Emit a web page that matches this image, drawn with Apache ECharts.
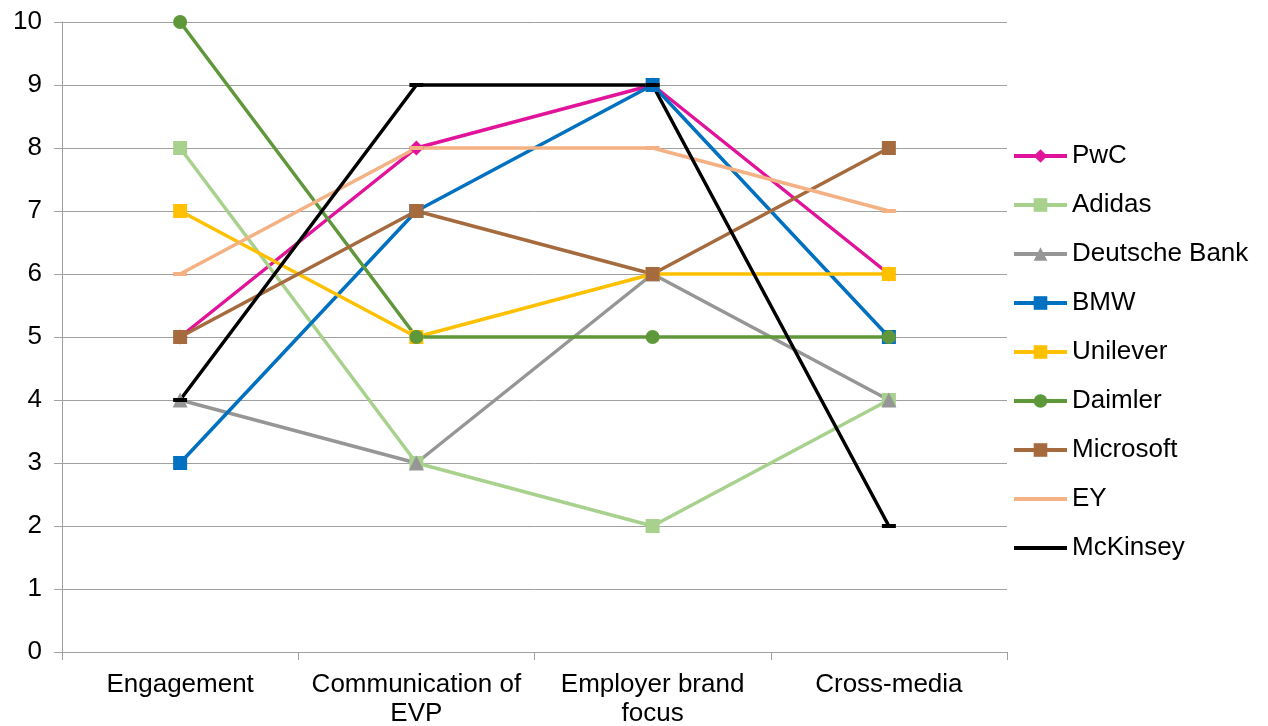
<!DOCTYPE html>
<html>
<head>
<meta charset="utf-8">
<script src="https://cdn.jsdelivr.net/npm/echarts@6/dist/echarts.min.js"></script>
<style>
  html, body { margin: 0; padding: 0; background: #fff; }
  #chart { width: 1268px; height: 726px; }
</style>
</head>
<body>
<div id="chart"></div>
<script>
// Employer brand scores per dimension
const categories = ['Engagement', 'Communication of\nEVP', 'Employer brand\nfocus', 'Cross-media'];
const yTicks = [0, 1, 2, 3, 4, 5, 6, 7, 8, 9, 10];

const pwc          = [5, 8, 9, 6];
const adidas       = [8, 3, 2, 4];
const deutscheBank = [4, 3, 6, 4];
const bmw          = [3, 7, 9, 5];
const unilever     = [7, 5, 6, 6];
const daimler      = [10, 5, 5, 5];
const microsoft    = [5, 7, 6, 8];
const ey           = [6, 8, 8, 7];
const mckinsey     = [4, 9, 9, 2];

const FONT = '"Liberation Sans", Arial, sans-serif';

function line(name, data, color, symbol, size) {
  return {
    name: name,
    type: 'line',
    data: data,
    symbol: symbol,
    symbolSize: size,
    showSymbol: true,
    lineStyle: { color: color, width: 3.5 },
    itemStyle: { color: color },
    emphasis: { disabled: true },
    animation: false
  };
}

// dash-marked series show only their line in the legend
const plainKey = { color: 'transparent', borderWidth: 0 };

const chart = echarts.init(document.getElementById('chart'), null, { renderer: 'canvas' });
chart.setOption({
  animation: false,
  grid: { left: 62, right: 261, top: 22, bottom: 74, containLabel: false, outerBoundsMode: 'none' },
  legend: {
    orient: 'vertical',
    left: 1012,
    top: 143,
    padding: 0,
    itemWidth: 53,
    itemHeight: 17,
    itemGap: 23,
    lineStyle: { width: 4 },
    textStyle: { fontFamily: FONT, fontSize: 26, color: '#000', lineHeight: 26 },
    data: [
      'PwC', 'Adidas', 'Deutsche Bank', 'BMW', 'Unilever', 'Daimler', 'Microsoft',
      { name: 'EY', itemStyle: plainKey },
      { name: 'McKinsey', itemStyle: plainKey }
    ]
  },
  xAxis: {
    type: 'category',
    data: categories,
    boundaryGap: true,
    axisLine: { lineStyle: { color: '#a0a0a0', width: 1 } },
    axisTick: { show: true, length: 8, alignWithLabel: false, lineStyle: { color: '#a0a0a0' } },
    axisLabel: { fontFamily: FONT, fontSize: 26, color: '#000', lineHeight: 29, margin: 18, interval: 0 },
    splitLine: { show: false }
  },
  yAxis: {
    type: 'value',
    min: yTicks[0],
    max: yTicks[yTicks.length - 1],
    interval: 1,
    axisLine: { show: true, lineStyle: { color: '#a0a0a0', width: 1 } },
    axisTick: { show: true, length: 8, lineStyle: { color: '#a0a0a0' } },
    axisLabel: { fontFamily: FONT, fontSize: 26, color: '#000', margin: 20 },
    splitLine: { show: true, lineStyle: { color: '#a0a0a0', width: 1 } }
  },
  series: [
    line('PwC', pwc, '#e2139b', 'diamond', 15),
    line('Adidas', adidas, '#a9d18e', 'rect', 14),
    line('Deutsche Bank', deutscheBank, '#969696', 'triangle', 15),
    line('BMW', bmw, '#0070c0', 'rect', 14),
    line('Unilever', unilever, '#ffc000', 'rect', 14),
    line('Daimler', daimler, '#5f983a', 'circle', 14),
    line('Microsoft', microsoft, '#a56b3e', 'rect', 14),
    line('EY', ey, '#f4b183', 'rect', [14, 4]),
    line('McKinsey', mckinsey, '#000000', 'rect', [14, 4])
  ]
});
</script>
</body>
</html>
